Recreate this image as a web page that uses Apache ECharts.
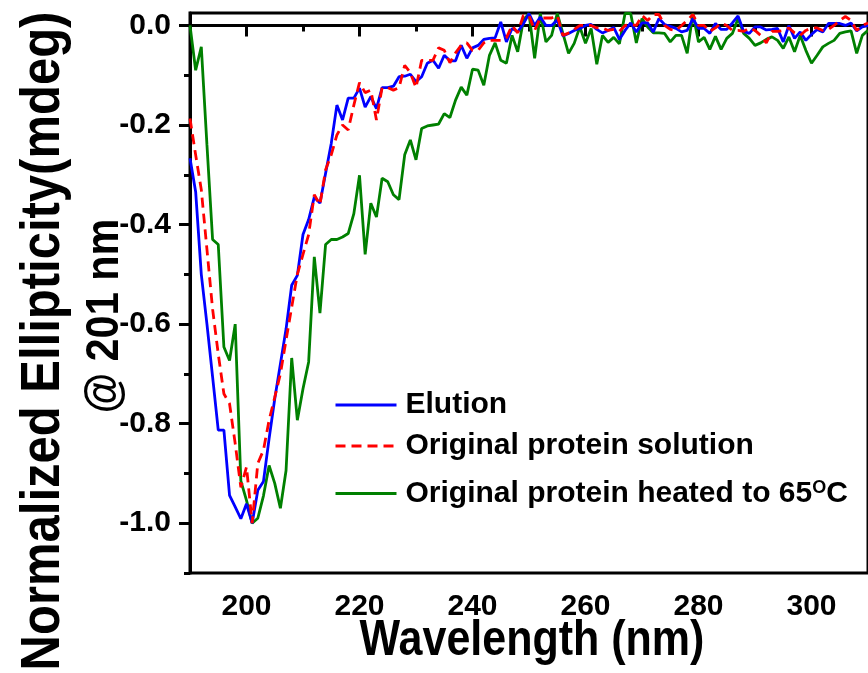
<!DOCTYPE html>
<html>
<head>
<meta charset="utf-8">
<script src="https://cdn.jsdelivr.net/npm/echarts@6/dist/echarts.min.js"></script>
<style>
html,body{margin:0;padding:0;background:#fff;}
#chart{width:868px;height:673px;}
</style>
</head>
<body>
<div id="chart"></div>
<script>
// Wavelength grid (nm): 190 .. 310, 1 nm steps
const wlStart = 190;
const wlEnd = 310;

const elution = [
 -0.267,-0.334,-0.50,-0.60,-0.706,-0.813,-0.813,-0.944,-0.967,-0.991,
 -0.961,-1.0,-0.934,-0.916,-0.83,-0.75,-0.68,-0.61,-0.522,-0.502,
 -0.42,-0.39,-0.345,-0.357,-0.297,-0.237,-0.16,-0.19,-0.146,-0.146,
 -0.126,-0.164,-0.143,-0.167,-0.125,-0.125,-0.122,-0.103,-0.102,-0.098,
 -0.113,-0.103,-0.076,-0.07,-0.086,-0.06,-0.071,-0.071,-0.04,-0.066,
 -0.045,-0.04,-0.028,-0.026,-0.025,0.007,-0.033,-0.006,-0.013,0.003,
 0.024,0.0,0.017,0.0,0.0,0.011,-0.021,-0.016,-0.01,-0.006,
 0.0,0.002,-0.008,-0.015,-0.01,-0.004,-0.028,-0.01,0.005,-0.013,
 0.005,0.005,-0.013,0.014,0.002,-0.002,-0.006,-0.013,-0.01,0.014,
 -0.006,-0.006,-0.016,0.004,-0.008,-0.008,0.005,0.019,-0.012,-0.016,
 -0.003,-0.003,-0.009,-0.008,-0.006,-0.033,0.0,-0.026,-0.013,-0.03,
 -0.018,-0.008,-0.013,0.004,0.004,0.004,0.0,0.005,-0.011,-0.003,
 0.0
];

const originalSolution = [
 -0.187,-0.26,-0.33,-0.45,-0.57,-0.66,-0.74,-0.76,-0.84,-0.928,
 -0.887,-1.0,-0.88,-0.853,-0.793,-0.747,-0.70,-0.632,-0.566,-0.50,
 -0.46,-0.42,-0.34,-0.36,-0.29,-0.26,-0.22,-0.20,-0.21,-0.16,
 -0.115,-0.135,-0.13,-0.19,-0.125,-0.125,-0.13,-0.125,-0.08,-0.095,
 -0.125,-0.07,-0.07,-0.07,-0.045,-0.05,-0.075,-0.055,-0.04,-0.035,
 -0.05,-0.05,-0.035,-0.03,-0.03,-0.03,-0.025,0.0,-0.015,0.02,
 0.02,-0.01,0.015,0.015,0.015,0.02,-0.02,-0.015,-0.008,0.0,
 0.0,0.0,-0.005,-0.005,-0.01,-0.008,-0.012,0.0,0.002,0.0,
 0.02,0.01,0.022,0.022,0.0,-0.008,-0.01,0.0,0.01,0.022,
 0.0,0.0,-0.012,-0.005,0.005,0.0,-0.01,-0.01,-0.012,-0.005,
 -0.01,-0.02,-0.035,-0.012,-0.012,-0.01,-0.005,-0.015,-0.02,-0.01,
 -0.005,-0.005,-0.01,-0.008,0.0,0.01,0.018,0.01,-0.01,0.0,
 0.005
];

const heated65 = [
 0.0,-0.09,-0.043,-0.24,-0.43,-0.44,-0.646,-0.673,-0.60,-0.915,
 -0.954,-1.0,-0.99,-0.945,-0.884,-0.92,-0.97,-0.894,-0.668,-0.793,
 -0.73,-0.676,-0.465,-0.578,-0.44,-0.43,-0.43,-0.425,-0.418,-0.378,
 -0.301,-0.46,-0.357,-0.385,-0.307,-0.314,-0.34,-0.35,-0.26,-0.23,
 -0.27,-0.207,-0.202,-0.2,-0.198,-0.177,-0.185,-0.15,-0.124,-0.14,
 -0.088,-0.09,-0.12,-0.06,-0.035,-0.07,-0.076,-0.02,-0.053,0.01,
 0.024,-0.066,0.024,-0.033,-0.02,0.024,-0.016,-0.056,-0.036,-0.003,
 -0.036,-0.006,-0.078,-0.02,-0.034,-0.024,-0.037,0.024,0.024,-0.035,
 0.014,-0.003,-0.015,-0.015,-0.016,-0.033,-0.02,-0.02,-0.056,0.024,
 -0.033,-0.024,-0.048,-0.022,-0.048,-0.026,-0.016,0.014,-0.016,-0.026,
 -0.04,-0.035,-0.028,-0.023,-0.03,-0.046,-0.023,-0.053,-0.02,-0.05,
 -0.076,-0.06,-0.043,-0.036,-0.03,-0.016,-0.013,-0.011,-0.056,-0.02,
 -0.01
];

const seriesNames = ['Elution', 'Original protein solution', 'Original protein heated to 65°C'];
const xMajorTicks = [200, 220, 240, 260, 280, 300];
const xMinorTicks = [190, 210, 230, 250, 270, 290, 310];
const yMajorTicks = [0, -0.2, -0.4, -0.6, -0.8, -1.0];
const yMinorTicks = [-0.1, -0.3, -0.5, -0.7, -0.9, -1.1];
const xTitle = 'Wavelength (nm)';
const yTitle1 = 'Normalized Ellipticity(mdeg)';
const yTitle2 = '@ 201 nm';

function pairs(vals) {
  const out = [];
  for (let i = 0; i < vals.length; i++) out.push([wlStart + i, vals[i]]);
  return out;
}

const FONT = "'Liberation Sans', Arial, sans-serif";
const chart = echarts.init(document.getElementById('chart'), null, {renderer: 'canvas'});

const option = {
  animation: false,
  backgroundColor: '#fff',
  grid: {
    left: 190, right: -6, top: 13, bottom: 100,
    show: true, borderColor: '#000', borderWidth: 3, backgroundColor: 'transparent'
  },
  xAxis: [{
    type: 'value', min: wlStart, max: wlEnd, position: 'bottom',
    axisLine: {show: true, lineStyle: {color: '#000', width: 3}},
    axisTick: {show: true, inside: false, length: 11, lineStyle: {color: '#000', width: 3}, customValues: xMajorTicks},
    axisLabel: {show: true, customValues: xMajorTicks, margin: 19, fontFamily: FONT, fontWeight: 'bold', fontSize: 30, color: '#000'},
    splitLine: {show: false}
  }, {
    type: 'value', min: wlStart, max: wlEnd, position: 'bottom',
    axisLine: {show: false},
    axisTick: {show: true, inside: false, length: 6, lineStyle: {color: '#000', width: 3}, customValues: xMinorTicks},
    axisLabel: {show: false, customValues: xMinorTicks},
    splitLine: {show: false}
  }],
  yAxis: [{
    type: 'value', min: -1.1, max: 0.025, position: 'left',
    axisLine: {show: true, lineStyle: {color: '#000', width: 3}},
    axisTick: {show: true, inside: false, length: 11, lineStyle: {color: '#000', width: 3}, customValues: yMajorTicks},
    axisLabel: {show: true, customValues: yMajorTicks, margin: 19, fontFamily: FONT, fontWeight: 'bold', fontSize: 30, color: '#000',
      formatter: function (v) { return (Math.abs(v) < 1e-9 ? 0 : v).toFixed(1); }},
    splitLine: {show: false}
  }, {
    type: 'value', min: -1.1, max: 0.025, position: 'left', offset: 0,
    axisLine: {show: false},
    axisTick: {show: true, inside: false, length: 6, lineStyle: {color: '#000', width: 3}, customValues: yMinorTicks},
    axisLabel: {show: false, customValues: yMinorTicks},
    splitLine: {show: false}
  }],
  legend: {
    orient: 'vertical', left: 329, top: 385,
    itemWidth: 61, itemHeight: 14, itemGap: 11,
    data: seriesNames,
    itemStyle: {opacity: 0},
    lineStyle: {width: 3},
    textStyle: {fontFamily: FONT, fontWeight: 'bold', fontSize: 30, color: '#000', padding: [0, 0, 0, 4],
      rich: {
        b: {fontFamily: FONT, fontWeight: 'bold', fontSize: 30, color: '#000', lineHeight: 43},
        sup: {fontFamily: FONT, fontWeight: 'bold', fontSize: 18, color: '#000', verticalAlign: 'top', lineHeight: 18, padding: [7, 0, 0, 0]}
      }
    },
    formatter: function (name) {
      if (name.indexOf('65') >= 0) return '{b|Original protein heated to 65}{sup|O}{b|C}';
      return name;
    }
  },
  graphic: [{
    type: 'text', x: 532, y: 641, scaleX: 0.86, scaleY: 1,
    style: {text: xTitle, font: "bold 50px 'Liberation Sans', Arial, sans-serif", fill: '#000',
      textAlign: 'center', textVerticalAlign: 'middle'}
  }, {
    type: 'text', x: 44, y: 341, rotation: Math.PI / 2, scaleX: 0.875, scaleY: 1,
    style: {text: yTitle1, font: "bold 56px 'Liberation Sans', Arial, sans-serif", fill: '#000',
      textAlign: 'center', textVerticalAlign: 'middle'}
  }, {
    type: 'text', x: 105, y: 316, rotation: Math.PI / 2, scaleX: 0.9, scaleY: 1,
    style: {text: yTitle2, font: "bold 46px 'Liberation Sans', Arial, sans-serif", fill: '#000',
      textAlign: 'center', textVerticalAlign: 'middle'}
  }],
  series: [{
    name: seriesNames[0], type: 'line', xAxisIndex: 0, yAxisIndex: 0,
    symbol: 'none', showSymbol: false, data: pairs(elution),
    lineStyle: {color: '#0000ff', width: 2.8}, itemStyle: {color: '#0000ff'}, z: 3
  }, {
    name: seriesNames[1], type: 'line', xAxisIndex: 0, yAxisIndex: 0,
    symbol: 'none', showSymbol: false, data: pairs(originalSolution),
    lineStyle: {color: '#ff0000', width: 2.8, type: [10, 6]}, itemStyle: {color: '#ff0000'}, z: 4
  }, {
    name: seriesNames[2], type: 'line', xAxisIndex: 0, yAxisIndex: 0,
    symbol: 'none', showSymbol: false, data: pairs(heated65),
    lineStyle: {color: '#008000', width: 2.8}, itemStyle: {color: '#008000'}, z: 2
  }]
};
chart.setOption(option);
</script>
</body>
</html>
